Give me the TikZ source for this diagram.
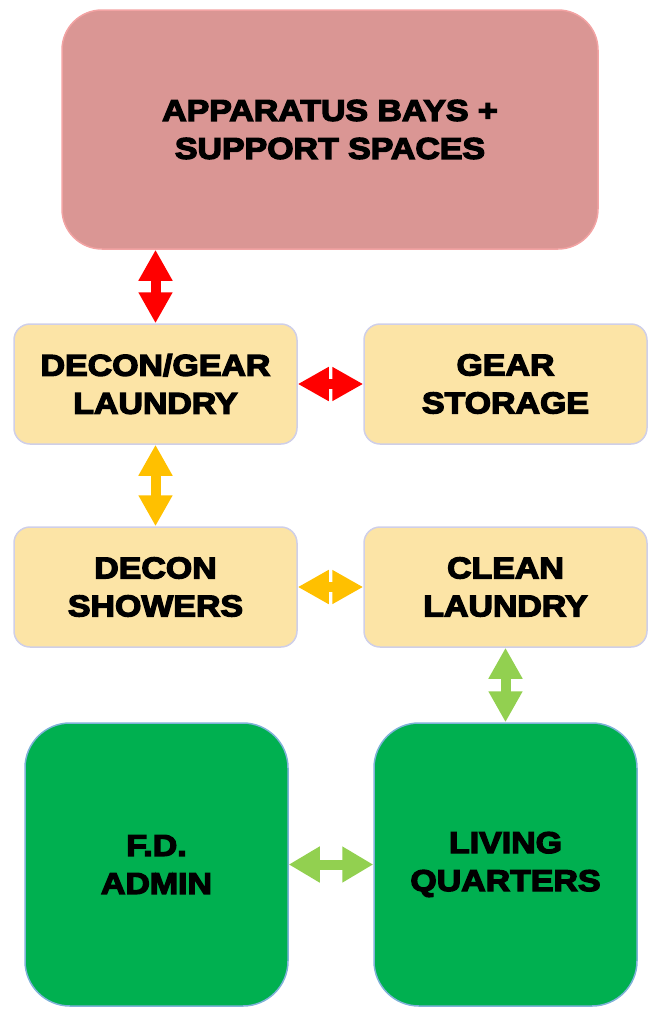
\documentclass[tikz,border=0pt]{standalone}
\usepackage{fontspec}
\setmainfont{Liberation Sans}[BoldFeatures={FakeBold=4.5,FakeStretch=1.13}]
\usetikzlibrary{arrows.meta}
\definecolor{topfill}{HTML}{DA9694}
\definecolor{topdraw}{HTML}{F2A3A3}
\definecolor{yelfill}{HTML}{FCE4A6}
\definecolor{yeldraw}{HTML}{CFCFE8}
\definecolor{grnfill}{HTML}{00B050}
\definecolor{grndraw}{HTML}{7FB2D8}
\definecolor{redarr}{HTML}{FF0000}
\definecolor{yelarr}{HTML}{FFC000}
\definecolor{grnarr}{HTML}{92D050}
\tikzset{
  lbl/.style={font=\bfseries\fontsize{30}{38}\selectfont, align=center, text=black, inner sep=0pt},
  topbox/.style={lbl, draw=topdraw, fill=topfill, line width=1.5pt, rounded corners=40pt, minimum width=536pt, minimum height=239pt},
  yelbox/.style={lbl, draw=yeldraw, fill=yelfill, line width=1.5pt, rounded corners=16pt, minimum width=283pt, minimum height=120pt},
  grnbox/.style={lbl, draw=grndraw, fill=grnfill, line width=1.5pt, rounded corners=45pt, minimum width=263pt, minimum height=283pt},
  dblarrow/.style={line width=10pt, {Triangle[width=32pt,length=31pt]}-{Triangle[width=32pt,length=31pt]}},
  widearrow/.style={line width=10pt, {Triangle[width=34pt,length=31pt]}-{Triangle[width=34pt,length=31pt]}}
}
\begin{document}
\begin{tikzpicture}[x=1pt,y=-1pt]
\useasboundingbox (0,0) rectangle (654,1010);
\node[topbox] (top) at (330,129.5) {APPARATUS BAYS +\\SUPPORT SPACES};
\node[yelbox] (dgl) at (155.5,384) {DECON/GEAR\\LAUNDRY};
\node[yelbox] (gs) at (505.5,384) {GEAR\\STORAGE};
\node[yelbox] (ds) at (155.5,587) {DECON\\SHOWERS};
\node[yelbox] (cl) at (505.5,587) {CLEAN\\LAUNDRY};
\node[grnbox] (fd) at (156.5,864.5) {F.D.\\ADMIN};
\node[grnbox] (lq) at (505.5,864.5) {LIVING\\QUARTERS};
\draw[dblarrow, redarr] (top.south -| dgl.north) -- (dgl.north);
\draw[dblarrow, redarr] (dgl.east) -- (gs.west);
\draw[dblarrow, yelarr] (dgl.south) -- (ds.north);
\draw[dblarrow, yelarr] (ds.east) -- (cl.west);
\draw[dblarrow, grnarr] (cl.south) -- (lq.north);
\draw[widearrow, grnarr] (fd.east) -- (lq.west);
\end{tikzpicture}
\end{document}
